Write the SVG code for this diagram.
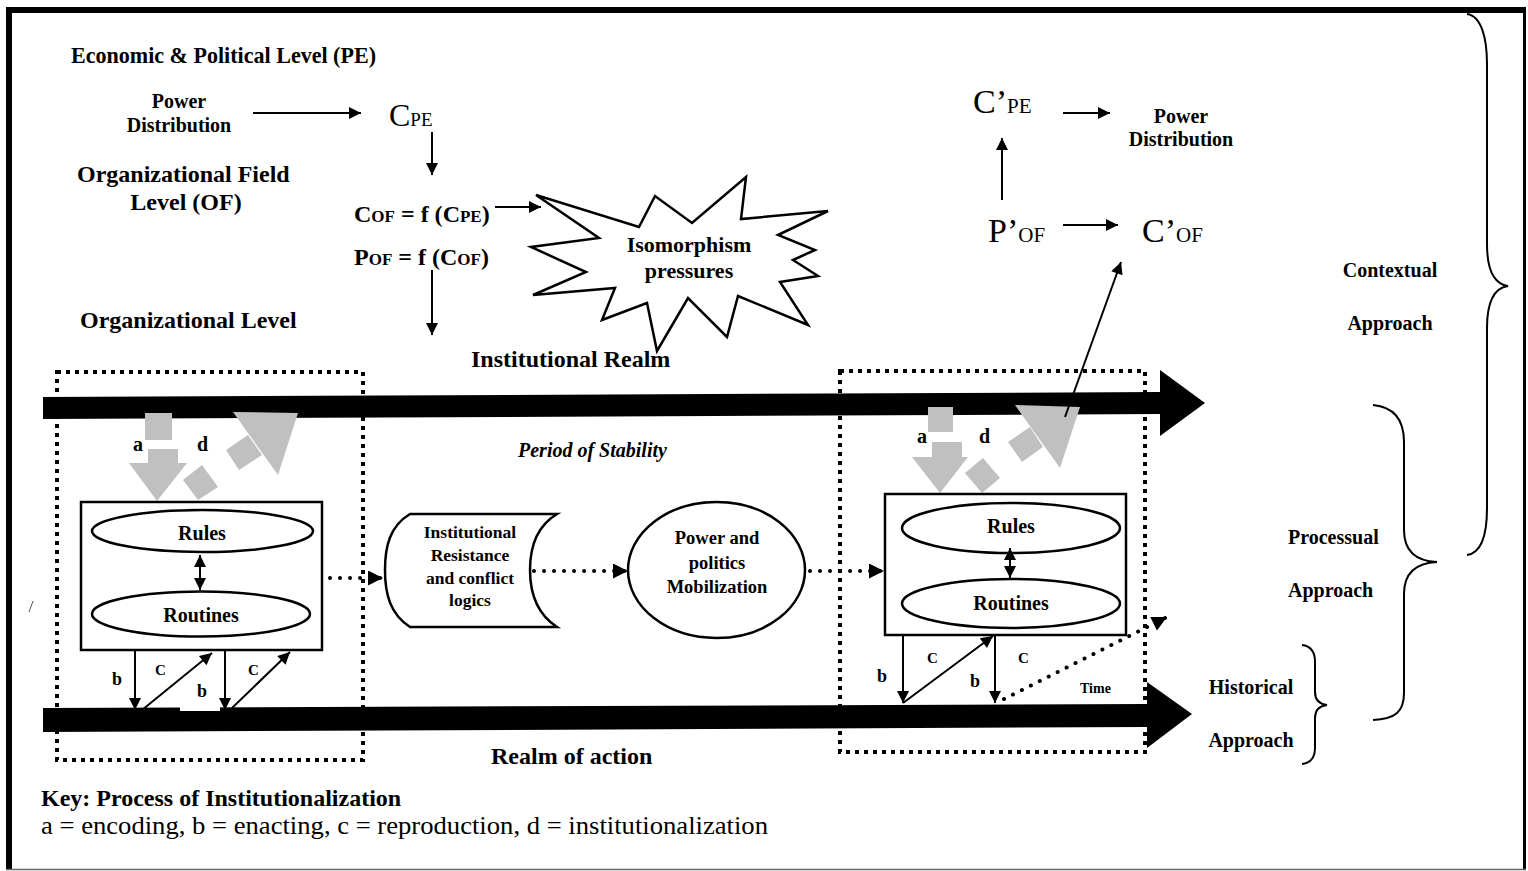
<svg xmlns="http://www.w3.org/2000/svg" width="1528" height="871" viewBox="0 0 1528 871">
  <style>
    text { font-family: "Liberation Serif", "Times New Roman", serif; fill: #000; }
    .b { font-weight: bold; }
    .h { font-size: 24px; font-weight: bold; }
    .lbl { font-size: 20px; font-weight: bold; }
    .ln { fill: none; stroke: #000; stroke-width: 2; }
    .arr { fill: none; stroke: #000; stroke-width: 2; marker-end: url(#ah); }
    .dots { fill: none; stroke: #000; stroke-width: 4; stroke-linecap: round; stroke-dasharray: 0.01 10; marker-end: url(#dh); }
    .frame { fill: none; stroke: #000; stroke-width: 4; stroke-dasharray: 4 5; }
    .shape { fill: #fff; stroke: #000; stroke-width: 2.5; }
    .grey { fill: #c0c0c0; stroke: none; }
    .brace { fill: none; stroke: #000; stroke-width: 2; }
  </style>
  <defs>
    <marker id="ah" viewBox="0 0 10 10" refX="10" refY="5" markerWidth="14" markerHeight="12" markerUnits="userSpaceOnUse" orient="auto-start-reverse">
      <path d="M0,0 L10,5 L0,10 z" fill="#000"/>
    </marker>
    <marker id="dh" viewBox="0 0 10 10" refX="10" refY="5" markerWidth="16" markerHeight="15" markerUnits="userSpaceOnUse" orient="auto">
      <path d="M0,0 L10,5 L0,10 z" fill="#000"/>
    </marker>
  </defs>

  <!-- page frame -->
  <g id="page-frame">
    <rect x="0" y="0" width="1528" height="871" fill="#fff"/>
    <rect x="6" y="7" width="1520" height="6" fill="#000"/>
    <rect x="6" y="7" width="6" height="863" fill="#000"/>
    <line x1="1524.5" y1="7" x2="1524.5" y2="870" stroke="#000" stroke-width="3"/>
    <line x1="6" y1="869.5" x2="1526" y2="869.5" stroke="#666" stroke-width="1.5"/>
    <line x1="29" y1="612" x2="33" y2="601" stroke="#555" stroke-width="1"/>
  </g>

  <!-- level headings -->
  <g id="levels">
    <text class="b" font-size="23.5" x="71" y="63" textLength="305" lengthAdjust="spacingAndGlyphs">Economic &amp; Political Level (PE)</text>
    <text class="h" x="77" y="182">Organizational Field</text>
    <text class="h" x="186" y="210" text-anchor="middle">Level (OF)</text>
    <text class="h" x="80" y="328">Organizational Level</text>
    <text class="h" x="471" y="367">Institutional Realm</text>
    <text class="h" x="491" y="764">Realm of action</text>
  </g>

  <!-- economic and political level terms -->
  <g id="power-distribution-left">
    <text class="lbl" x="179" y="108" text-anchor="middle">Power</text>
    <text class="lbl" x="179" y="132" text-anchor="middle">Distribution</text>
  </g>
  <g id="c-pe">
    <text x="389" y="126"><tspan font-size="32">C</tspan><tspan font-size="19">PE</tspan></text>
  </g>
  <g id="c-of">
    <text class="b" x="354" y="222"><tspan font-size="24">C</tspan><tspan font-size="17">OF</tspan><tspan font-size="24"> = f (</tspan><tspan font-size="24">C</tspan><tspan font-size="17">PE</tspan><tspan font-size="24">)</tspan></text>
  </g>
  <g id="p-of">
    <text class="b" x="354" y="265"><tspan font-size="24">P</tspan><tspan font-size="17">OF</tspan><tspan font-size="24"> = f (</tspan><tspan font-size="24">C</tspan><tspan font-size="17">OF</tspan><tspan font-size="24">)</tspan></text>
  </g>

  <!-- isomorphism pressures burst -->
  <g id="isomorphism">
    <polygon class="shape" stroke-width="2" points="536,195 639,227 655,196 692,223 746,177 741,219 828,211 778,235 815,250 793,260 818,276 780,282 808,325 738,296 727,337 688,298 657,351 647,303 602,320 615,288 533,295 586,272 531,247 599,238"/>
    <text class="b" font-size="22" x="689" y="252" text-anchor="middle">Isomorphism</text>
    <text class="b" font-size="22" x="689" y="278" text-anchor="middle">pressures</text>
  </g>

  <!-- right-hand level terms -->
  <g id="c-pe-prime">
    <text x="973" y="113"><tspan font-size="34">C’</tspan><tspan font-size="21">PE</tspan></text>
  </g>
  <g id="power-distribution-right">
    <text class="lbl" x="1181" y="123" text-anchor="middle">Power</text>
    <text class="lbl" x="1181" y="146" text-anchor="middle">Distribution</text>
  </g>
  <g id="p-of-prime">
    <text x="988" y="242"><tspan font-size="34">P’</tspan><tspan font-size="21">OF</tspan></text>
  </g>
  <g id="c-of-prime">
    <text x="1142" y="242"><tspan font-size="34">C’</tspan><tspan font-size="21">OF</tspan></text>
  </g>

  <!-- institutional realm and realm of action time bars -->
  <g id="institutional-bar">
    <polygon fill="#000" points="43,397 1160,392 1160,370 1205,403 1160,436 1160,414 43,419"/>
  </g>
  <g id="action-bar">
    <polygon fill="#000" points="43,708 1147,704 1147,682 1192,714 1147,748 1147,727 43,732"/>
    <rect x="180" y="704" width="40" height="7" fill="#fff"/>
  </g>

  <!-- left period: dotted frame, encoding / institutionalization shapes, rules and routines -->
  <g id="period-left">
    <rect class="frame" x="57" y="372" width="306" height="388"/>
    <rect class="grey" x="145" y="413" width="27" height="27"/>
    <polygon class="grey" points="148,449 178,449 178,463 187,463 157,501 129,463 148,463"/>
    <polygon class="grey" points="183,480 202,465 218,487 198,500"/>
    <polygon class="grey" points="226,450 248,435 262,455 239,470"/>
    <polygon class="grey" points="233,412 298,413 278,475"/>
    <text class="lbl" x="133" y="451">a</text>
    <text class="lbl" x="197" y="451">d</text>
    <rect class="shape" x="81" y="502" width="241" height="148" stroke-width="2"/>
    <ellipse class="shape" cx="202.5" cy="531" rx="110.5" ry="21"/>
    <text class="lbl" x="202" y="540" text-anchor="middle">Rules</text>
    <ellipse class="shape" cx="201" cy="614" rx="109" ry="22.5"/>
    <text class="lbl" x="201" y="622" text-anchor="middle">Routines</text>
    <text class="b" font-size="18" x="112" y="685">b</text>
    <text class="b" font-size="15" x="155" y="675">C</text>
    <text class="b" font-size="18" x="197" y="697">b</text>
    <text class="b" font-size="15" x="248" y="675">C</text>
  </g>

  <!-- right period -->
  <g id="period-right">
    <rect class="frame" x="840" y="371" width="305" height="381"/>
    <rect class="grey" x="928" y="407" width="25" height="25"/>
    <polygon class="grey" points="932,442 962,442 962,457 968,457 940,493 912,457 932,457"/>
    <polygon class="grey" points="965,473 983,458 1000,478 982,493"/>
    <polygon class="grey" points="1008,442 1030,427 1043,447 1022,462"/>
    <polygon class="grey" points="1015,405 1080,407 1060,468"/>
    <text class="lbl" x="917" y="443">a</text>
    <text class="lbl" x="979" y="443">d</text>
    <rect class="shape" x="885" y="494" width="241" height="141" stroke-width="2"/>
    <ellipse class="shape" cx="1011" cy="528" rx="109" ry="25"/>
    <text class="lbl" x="1011" y="533" text-anchor="middle">Rules</text>
    <ellipse class="shape" cx="1011" cy="603.5" rx="109" ry="24.5"/>
    <text class="lbl" x="1011" y="610" text-anchor="middle">Routines</text>
    <text class="b" font-size="18" x="877" y="682">b</text>
    <text class="b" font-size="15" x="927" y="663">C</text>
    <text class="b" font-size="18" x="970" y="687">b</text>
    <text class="b" font-size="15" x="1018" y="663">C</text>
    <rect x="1062" y="698" width="75" height="6" fill="#fff"/>
    <text class="b" font-size="14" x="1080" y="693">Time</text>
  </g>

  <g id="stability-label">
    <text class="b" font-size="20" font-style="italic" x="518" y="457">Period of Stability</text>
  </g>

  <!-- institutional resistance -->
  <g id="resistance">
    <path class="shape" d="M410,514 L557,514 C537,526 530,546 530,570 C530,594 537,614 557,627 L410,627 C390,614 385,594 385,570 C385,546 390,526 410,514 Z"/>
    <text class="b" font-size="17.5" x="470" y="538" text-anchor="middle">Institutional</text>
    <text class="b" font-size="17.5" x="470" y="561" text-anchor="middle">Resistance</text>
    <text class="b" font-size="17.5" x="470" y="584" text-anchor="middle">and conflict</text>
    <text class="b" font-size="17.5" x="470" y="606" text-anchor="middle">logics</text>
  </g>

  <!-- power and politics mobilization -->
  <g id="mobilization">
    <ellipse class="shape" cx="716.5" cy="570" rx="88.5" ry="68"/>
    <text class="b" font-size="18.5" x="717" y="544" text-anchor="middle">Power and</text>
    <text class="b" font-size="18.5" x="717" y="568.5" text-anchor="middle">politics</text>
    <text class="b" font-size="18.5" x="717" y="593" text-anchor="middle">Mobilization</text>
  </g>

  <!-- approaches -->
  <g id="contextual-approach">
    <path class="brace" d="M1467,14 C1482,16 1487,40 1487,64 L1487,244 C1487,270 1494,284 1508,286 C1494,288 1487,302 1487,328 L1487,508 C1487,533 1482,553 1467,555"/>
    <text class="lbl" x="1390" y="277" text-anchor="middle">Contextual</text>
    <text class="lbl" x="1390" y="330" text-anchor="middle">Approach</text>
  </g>
  <g id="processual-approach">
    <path class="brace" d="M1373,405 C1395,407 1404,420 1404,442 L1404,530 C1404,550 1415,561 1437,562 C1415,563 1404,574 1404,594 L1404,693 C1404,712 1395,719 1373,720"/>
    <text class="lbl" x="1288" y="544">Processual</text>
    <text class="lbl" x="1288" y="597">Approach</text>
  </g>
  <g id="historical-approach">
    <path class="brace" d="M1302,645 C1311,646 1315,652 1315,662 L1315,692 C1315,700 1319,704 1327,705 C1319,706 1315,710 1315,718 L1315,748 C1315,758 1311,763 1302,764"/>
    <text class="lbl" x="1251" y="694" text-anchor="middle">Historical</text>
    <text class="lbl" x="1251" y="747" text-anchor="middle">Approach</text>
  </g>

  <!-- key -->
  <g id="key">
    <text class="h" x="41" y="806">Key: Process of Institutionalization</text>
    <text font-size="25" x="41" y="834" textLength="727" lengthAdjust="spacingAndGlyphs">a = encoding, b = enacting, c = reproduction, d = institutionalization</text>
  </g>

  <!-- connectors -->
  <g id="connectors">
    <line class="arr" x1="253" y1="113" x2="361" y2="113"/>
    <line class="arr" x1="432" y1="132" x2="432" y2="175"/>
    <line class="arr" x1="495" y1="207" x2="541" y2="207"/>
    <line class="arr" x1="432" y1="270" x2="432" y2="335"/>
    <line class="arr" x1="1063" y1="113" x2="1110" y2="113"/>
    <line class="arr" x1="1002" y1="200" x2="1002" y2="138"/>
    <line class="arr" x1="1063" y1="225" x2="1118" y2="225"/>
    <line class="arr" x1="1065" y1="417" x2="1121" y2="262"/>
    <!-- rules / routines -->
    <line class="arr" x1="200" y1="555" x2="200" y2="590" marker-start="url(#ah)"/>
    <line class="arr" x1="1010" y1="548" x2="1010" y2="578" marker-start="url(#ah)"/>
    <!-- enacting and reproduction, left -->
    <line class="arr" x1="135" y1="650" x2="135" y2="710"/>
    <line class="arr" x1="142" y1="710" x2="212" y2="653"/>
    <line class="arr" x1="225" y1="650" x2="225" y2="710"/>
    <line class="arr" x1="232" y1="708" x2="290" y2="652"/>
    <!-- enacting and reproduction, right -->
    <line class="arr" x1="903" y1="635" x2="903" y2="703"/>
    <line class="arr" x1="903" y1="703" x2="993" y2="636"/>
    <line class="arr" x1="995" y1="635" x2="995" y2="703"/>
    <!-- dotted process flow -->
    <line class="dots" x1="330" y1="578" x2="383" y2="578"/>
    <line class="dots" x1="534" y1="571" x2="628" y2="571"/>
    <line class="dots" x1="810" y1="571" x2="884" y2="571"/>
    <line class="dots" x1="1004" y1="699" x2="1167" y2="617"/>
  </g>
</svg>
